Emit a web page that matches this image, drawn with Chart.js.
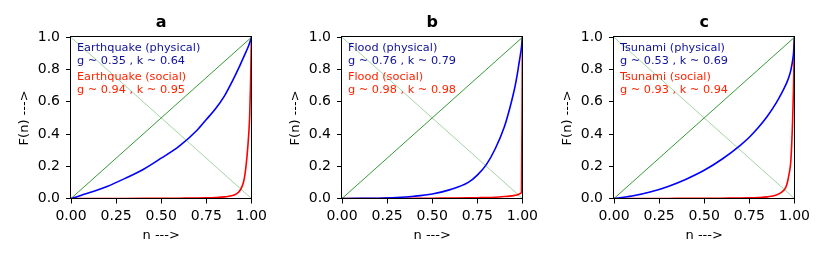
<!DOCTYPE html>
<html>
<head>
<meta charset="utf-8">
<script src="https://cdn.jsdelivr.net/npm/chart.js@4"></script>
<style>
  body { margin: 0; background: #fff; }
  #wrap { position: relative; width: 830px; height: 260px; }
  canvas { position: absolute; top: 0; }
</style>
</head>
<body>
<div id="wrap">
  <canvas id="chartA" width="270" height="260" style="left:1px"></canvas>
  <canvas id="chartB" width="270" height="260" style="left:272px"></canvas>
  <canvas id="chartC" width="270" height="260" style="left:544px"></canvas>
</div>
<script>
// n (fraction of events) shared by every curve
const n = [0, 0.1, 0.2, 0.3, 0.4, 0.5, 0.6, 0.7, 0.75, 0.8, 0.85, 0.9, 0.93, 0.95, 0.96, 0.97, 0.98, 0.99, 0.995, 1]

const quakePhysical   = [0, 0.035, 0.075, 0.125, 0.18, 0.25, 0.325, 0.425, 0.49, 0.555, 0.635, 0.74, 0.81, 0.86, 0.885, 0.91, 0.935, 0.965, 0.982, 1]
const quakeSocial     = [0, 0, 0.0002, 0.0004, 0.0006, 0.001, 0.002, 0.003, 0.004, 0.006, 0.01, 0.02, 0.04, 0.08, 0.12, 0.2, 0.32, 0.5, 0.7, 1]
const floodPhysical   = [0, 0.0005, 0.002, 0.006, 0.014, 0.028, 0.055, 0.10, 0.145, 0.21, 0.31, 0.445, 0.56, 0.65, 0.70, 0.76, 0.83, 0.9, 0.94, 1]
const floodSocial     = [0, 0, 0.0002, 0.0005, 0.001, 0.002, 0.003, 0.004, 0.005, 0.006, 0.008, 0.012, 0.015, 0.018, 0.02, 0.022, 0.026, 0.032, 0.04, 1]
const tsunamiPhysical = [0, 0.015, 0.04, 0.075, 0.12, 0.175, 0.245, 0.33, 0.38, 0.44, 0.51, 0.595, 0.655, 0.70, 0.725, 0.755, 0.795, 0.855, 0.9, 1]
const tsunamiSocial   = [0, 0, 0.0002, 0.0004, 0.0007, 0.001, 0.002, 0.003, 0.004, 0.006, 0.01, 0.022, 0.04, 0.065, 0.095, 0.15, 0.23, 0.48, 0.68, 1]

// reference lines, values at n = 0 and n = 1
const refN = [0, 1]
const equality = [0, 1]
const crossLine = [1, 0]

const panelTitles = ['a', 'b', 'c']
const physicalLabels = ['Earthquake (physical)', 'Flood (physical)', 'Tsunami (physical)']
const physicalStats = ['g ~ 0.35 , k ~ 0.64', 'g ~ 0.76 , k ~ 0.79', 'g ~ 0.53 , k ~ 0.69']
const socialLabels = ['Earthquake (social)', 'Flood (social)', 'Tsunami (social)']
const socialStats = ['g ~ 0.94 , k ~ 0.95', 'g ~ 0.98 , k ~ 0.98', 'g ~ 0.93 , k ~ 0.94']

const xTicks = [0, 0.25, 0.5, 0.75, 1]
const yTicks = [0, 0.2, 0.4, 0.6, 0.8, 1]

Chart.defaults.font.family = '"DejaVu Sans", sans-serif'
Chart.defaults.color = '#000'

const pts = (xs, ys) => xs.map((x, i) => ({x: x, y: ys[i]}))

// box around the plot, like matplotlib spines
const frame = {
    id: 'frame',
    afterDraw(chart) {
        const {ctx, chartArea: a} = chart
        ctx.save()
        ctx.strokeStyle = '#000'
        ctx.lineWidth = 1
        ctx.strokeRect(Math.round(a.left) - 0.5, Math.round(a.top) - 0.5,
                       Math.round(a.right - a.left) + 1, Math.round(a.bottom - a.top) + 1)
        ctx.restore()
    }
}

// text in the upper left corner of each panel
const notes = {
    id: 'notes',
    afterDatasetsDraw(chart, args, opts) {
        const {ctx, scales} = chart
        ctx.save()
        ctx.font = '11.3px "DejaVu Sans"'
        ctx.textBaseline = 'alphabetic'
        ctx.textAlign = 'left'
        opts.lines.forEach(l => {
            ctx.fillStyle = l.color
            ctx.fillText(l.text, scales.x.getPixelForValue(0.033), scales.y.getPixelForValue(l.at))
        })
        ctx.restore()
    }
}

function makePanel(id, i, physical, social) {
    new Chart(document.getElementById(id), {
        type: 'line',
        data: {
            datasets: [
                { data: pts(refN, equality), borderColor: 'green', borderWidth: 0.8 },
                { data: pts(refN, crossLine), borderColor: 'rgba(0,128,0,0.4)', borderWidth: 0.9 },
                { data: pts(n, physical), borderColor: '#0000ff', borderWidth: 1.6, cubicInterpolationMode: 'monotone' },
                { data: pts(n, social), borderColor: '#ff0000', borderWidth: 1.6, cubicInterpolationMode: 'monotone' }
            ]
        },
        options: {
            responsive: false,
            animation: false,
            elements: { point: { radius: 0 } },
            layout: { padding: { left: 0, right: 16.5, top: 0, bottom: 0 } },
            plugins: {
                legend: { display: false },
                tooltip: { enabled: false },
                title: {
                    display: true,
                    fullSize: false,
                    text: panelTitles[i],
                    font: { size: 16, weight: 'bold' },
                    padding: { top: 13.7, bottom: 4.4 }
                },
                notes: {
                    lines: [
                        { text: physicalLabels[i], at: 0.918, color: '#10109a' },
                        { text: physicalStats[i], at: 0.837, color: '#10109a' },
                        { text: socialLabels[i], at: 0.735, color: '#ff2400' },
                        { text: socialStats[i], at: 0.654, color: '#ff2400' }
                    ]
                }
            },
            scales: {
                x: {
                    type: 'linear',
                    min: 0, max: 1,
                    afterBuildTicks: s => { s.ticks = xTicks.map(v => ({value: v})) },
                    afterFit: s => { s.height = 61.5 },
                    ticks: { font: { size: 14 }, padding: 4, maxRotation: 0, callback: v => v.toFixed(2) },
                    grid: { drawOnChartArea: false, drawTicks: true, tickLength: 5, tickColor: '#000' },
                    border: { display: false },
                    title: { display: true, text: 'n --->', font: { size: 13 }, padding: { top: 0, bottom: 16.6 } }
                },
                y: {
                    type: 'linear',
                    min: 0, max: 1,
                    afterBuildTicks: s => { s.ticks = yTicks.map(v => ({value: v})) },
                    afterFit: s => { s.width = 70 },
                    ticks: { font: { size: 14 }, padding: 6, callback: v => v.toFixed(1) },
                    grid: { drawOnChartArea: false, drawTicks: true, tickLength: 5, tickColor: '#000' },
                    border: { display: false },
                    title: { display: true, text: 'F(n) --->', font: { size: 13 }, padding: { top: 15.5, bottom: 0 } }
                }
            }
        },
        plugins: [frame, notes]
    })
}

makePanel('chartA', 0, quakePhysical, quakeSocial)
makePanel('chartB', 1, floodPhysical, floodSocial)
makePanel('chartC', 2, tsunamiPhysical, tsunamiSocial)
</script>
</body>
</html>
